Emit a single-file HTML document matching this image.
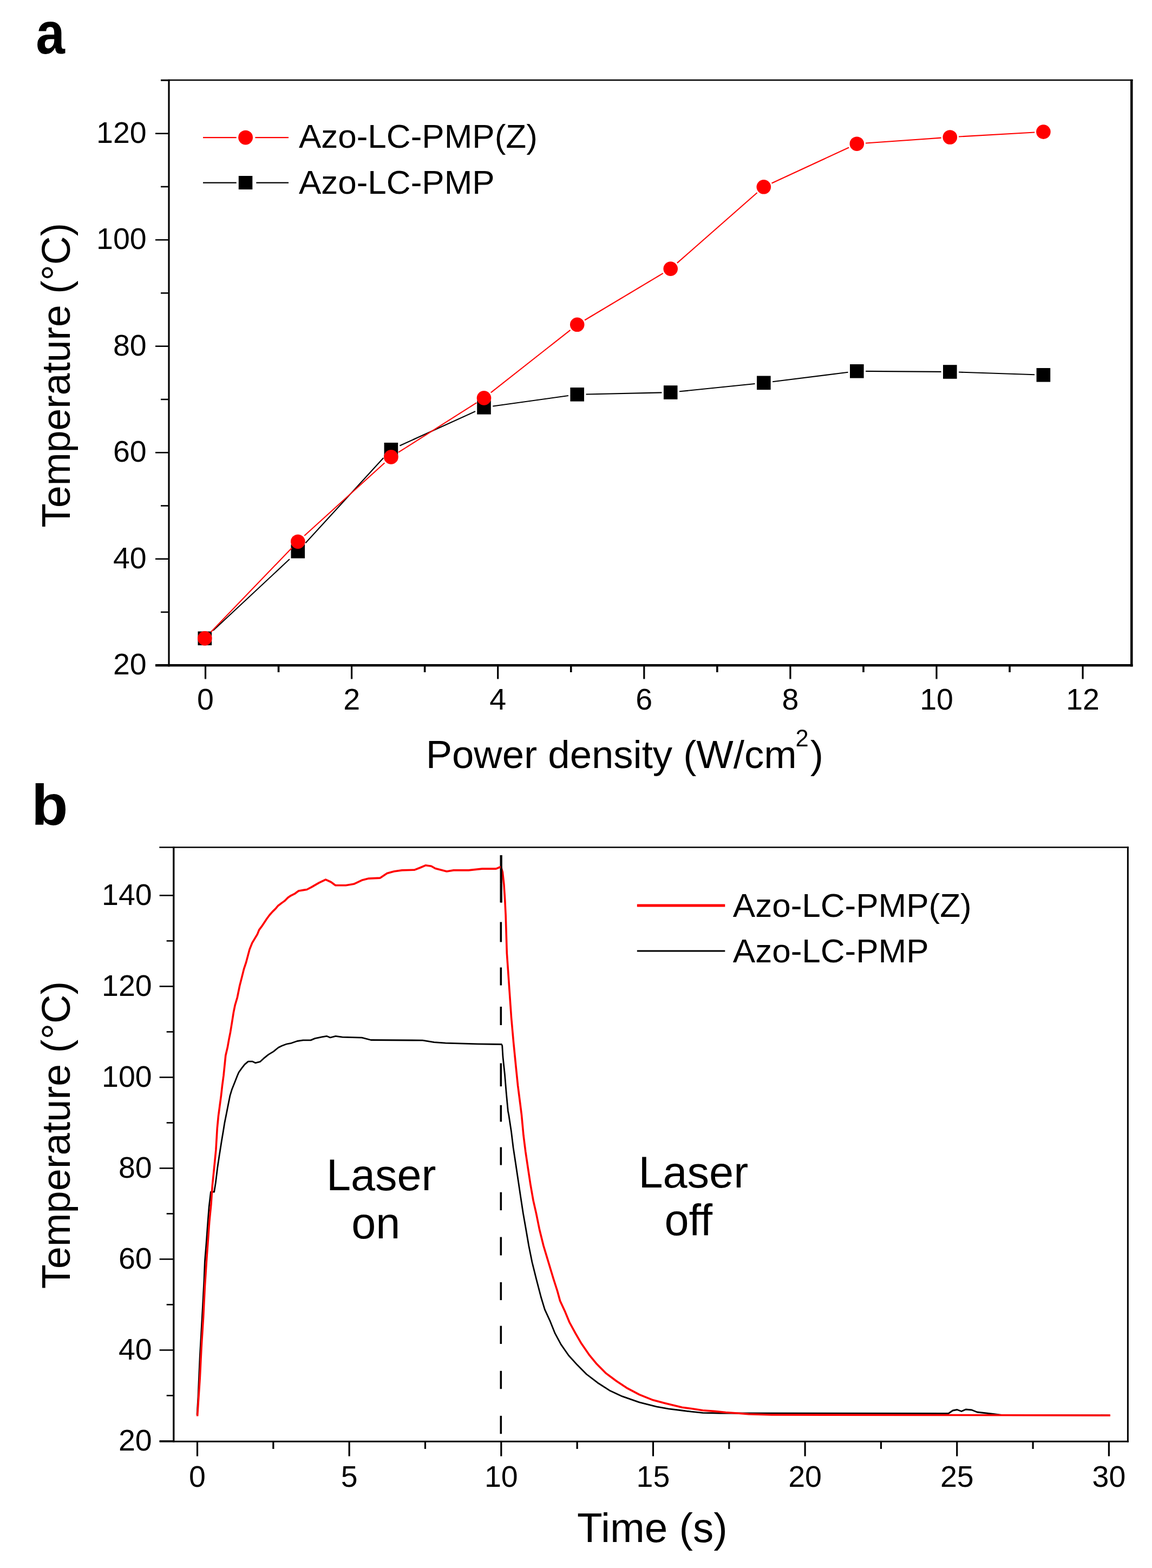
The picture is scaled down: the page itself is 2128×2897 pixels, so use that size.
<!DOCTYPE html>
<html><head><meta charset="utf-8"><title>Temperature plots</title>
<style>
html,body{margin:0;padding:0;background:#fff;}
body{width:2128px;height:2897px;overflow:hidden;}
svg{display:block;}
text{font-family:'Liberation Sans', Arial, Helvetica, sans-serif;fill:#000;}
</style></head><body>
<svg width="2128" height="2897" viewBox="0 0 2128 2897">
<rect x="0" y="0" width="2128" height="2897" fill="#fff"/>
<text transform="translate(66.2,98.5) scale(0.91,1.024)" font-size="106" font-weight="bold">a</text>
<line x1="297.00" y1="148.00" x2="2092.55" y2="148.00" stroke="#000" stroke-width="2.4" />
<line x1="312.00" y1="146.80" x2="312.00" y2="1231.40" stroke="#000" stroke-width="3.2" />
<line x1="2090.30" y1="146.80" x2="2090.30" y2="1231.40" stroke="#000" stroke-width="4.5" />
<line x1="287.00" y1="1229.20" x2="2092.55" y2="1229.20" stroke="#000" stroke-width="4.6" />
<line x1="287.00" y1="1229.20" x2="312.00" y2="1229.20" stroke="#000" stroke-width="2.6" />
<text x="270.70" y="1246.40" font-size="55.5" text-anchor="end" font-weight="normal" >20</text>
<line x1="287.00" y1="1032.70" x2="312.00" y2="1032.70" stroke="#000" stroke-width="2.6" />
<text x="270.70" y="1049.90" font-size="55.5" text-anchor="end" font-weight="normal" >40</text>
<line x1="287.00" y1="836.20" x2="312.00" y2="836.20" stroke="#000" stroke-width="2.6" />
<text x="270.70" y="853.40" font-size="55.5" text-anchor="end" font-weight="normal" >60</text>
<line x1="287.00" y1="639.70" x2="312.00" y2="639.70" stroke="#000" stroke-width="2.6" />
<text x="270.70" y="656.90" font-size="55.5" text-anchor="end" font-weight="normal" >80</text>
<line x1="287.00" y1="443.20" x2="312.00" y2="443.20" stroke="#000" stroke-width="2.6" />
<text x="270.70" y="460.40" font-size="55.5" text-anchor="end" font-weight="normal" >100</text>
<line x1="287.00" y1="246.70" x2="312.00" y2="246.70" stroke="#000" stroke-width="2.6" />
<text x="270.70" y="263.90" font-size="55.5" text-anchor="end" font-weight="normal" >120</text>
<line x1="297.00" y1="1130.95" x2="312.00" y2="1130.95" stroke="#000" stroke-width="2.6" />
<line x1="297.00" y1="934.45" x2="312.00" y2="934.45" stroke="#000" stroke-width="2.6" />
<line x1="297.00" y1="737.95" x2="312.00" y2="737.95" stroke="#000" stroke-width="2.6" />
<line x1="297.00" y1="541.45" x2="312.00" y2="541.45" stroke="#000" stroke-width="2.6" />
<line x1="297.00" y1="344.95" x2="312.00" y2="344.95" stroke="#000" stroke-width="2.6" />
<line x1="297.00" y1="148.45" x2="312.00" y2="148.45" stroke="#000" stroke-width="2.6" />
<line x1="379.50" y1="1229.20" x2="379.50" y2="1254.50" stroke="#000" stroke-width="3.2" />
<text x="379.50" y="1311.00" font-size="55.5" text-anchor="middle" font-weight="normal" >0</text>
<line x1="649.60" y1="1229.20" x2="649.60" y2="1254.50" stroke="#000" stroke-width="3.2" />
<text x="649.60" y="1311.00" font-size="55.5" text-anchor="middle" font-weight="normal" >2</text>
<line x1="919.70" y1="1229.20" x2="919.70" y2="1254.50" stroke="#000" stroke-width="3.2" />
<text x="919.70" y="1311.00" font-size="55.5" text-anchor="middle" font-weight="normal" >4</text>
<line x1="1189.80" y1="1229.20" x2="1189.80" y2="1254.50" stroke="#000" stroke-width="3.2" />
<text x="1189.80" y="1311.00" font-size="55.5" text-anchor="middle" font-weight="normal" >6</text>
<line x1="1459.90" y1="1229.20" x2="1459.90" y2="1254.50" stroke="#000" stroke-width="3.2" />
<text x="1459.90" y="1311.00" font-size="55.5" text-anchor="middle" font-weight="normal" >8</text>
<line x1="1730.00" y1="1229.20" x2="1730.00" y2="1254.50" stroke="#000" stroke-width="3.2" />
<text x="1730.00" y="1311.00" font-size="55.5" text-anchor="middle" font-weight="normal" >10</text>
<line x1="2000.10" y1="1229.20" x2="2000.10" y2="1254.50" stroke="#000" stroke-width="3.2" />
<text x="2000.10" y="1311.00" font-size="55.5" text-anchor="middle" font-weight="normal" >12</text>
<line x1="514.55" y1="1229.20" x2="514.55" y2="1242.00" stroke="#000" stroke-width="3.6" />
<line x1="784.65" y1="1229.20" x2="784.65" y2="1242.00" stroke="#000" stroke-width="3.6" />
<line x1="1054.75" y1="1229.20" x2="1054.75" y2="1242.00" stroke="#000" stroke-width="3.6" />
<line x1="1324.85" y1="1229.20" x2="1324.85" y2="1242.00" stroke="#000" stroke-width="3.6" />
<line x1="1594.95" y1="1229.20" x2="1594.95" y2="1242.00" stroke="#000" stroke-width="3.6" />
<line x1="1865.05" y1="1229.20" x2="1865.05" y2="1242.00" stroke="#000" stroke-width="3.6" />
<text x="786.7" y="1419.4" font-size="72.5">Power density (W/cm<tspan font-size="43.5" dy="-40" dx="-2">2</tspan><tspan dy="40" dx="3">)</tspan></text>
<text transform="translate(128.8,974.7) rotate(-90)" x="0" y="0" font-size="73.3">Temperature (°C)</text>
<line x1="393.66" y1="1165.05" x2="534.94" y2="1033.05" stroke="#000" stroke-width="2.1" />
<line x1="564.38" y1="1003.32" x2="708.32" y2="846.08" stroke="#000" stroke-width="2.1" />
<line x1="738.39" y1="823.44" x2="878.01" y2="760.06" stroke="#000" stroke-width="2.1" />
<line x1="910.27" y1="750.53" x2="1049.93" y2="731.07" stroke="#000" stroke-width="2.1" />
<line x1="1082.50" y1="728.44" x2="1222.40" y2="725.36" stroke="#000" stroke-width="2.1" />
<line x1="1254.98" y1="723.33" x2="1394.52" y2="708.97" stroke="#000" stroke-width="2.1" />
<line x1="1427.07" y1="705.27" x2="1566.53" y2="687.83" stroke="#000" stroke-width="2.1" />
<line x1="1599.10" y1="685.91" x2="1738.50" y2="686.89" stroke="#000" stroke-width="2.1" />
<line x1="1771.10" y1="687.55" x2="1911.10" y2="692.25" stroke="#000" stroke-width="2.1" />
<rect x="365.5" y="1166.6" width="25.6" height="25.6" fill="#000"/>
<rect x="537.5" y="1005.9" width="25.6" height="25.6" fill="#000"/>
<rect x="709.6" y="817.9" width="25.6" height="25.6" fill="#000"/>
<rect x="881.2" y="740.0" width="25.6" height="25.6" fill="#000"/>
<rect x="1053.4" y="716.0" width="25.6" height="25.6" fill="#000"/>
<rect x="1225.9" y="712.2" width="25.6" height="25.6" fill="#000"/>
<rect x="1398.0" y="694.5" width="25.6" height="25.6" fill="#000"/>
<rect x="1570.0" y="673.0" width="25.6" height="25.6" fill="#000"/>
<rect x="1742.0" y="674.2" width="25.6" height="25.6" fill="#000"/>
<rect x="1914.6" y="680.0" width="25.6" height="25.6" fill="#000"/>
<line x1="389.53" y1="1167.73" x2="539.07" y2="1012.37" stroke="#f00" stroke-width="2.1" />
<line x1="562.29" y1="989.81" x2="710.41" y2="855.29" stroke="#f00" stroke-width="2.1" />
<line x1="736.07" y1="835.71" x2="880.33" y2="744.09" stroke="#f00" stroke-width="2.1" />
<line x1="906.73" y1="725.38" x2="1053.47" y2="609.82" stroke="#f00" stroke-width="2.1" />
<line x1="1080.10" y1="591.48" x2="1224.80" y2="504.92" stroke="#f00" stroke-width="2.1" />
<line x1="1250.87" y1="485.90" x2="1398.63" y2="356.00" stroke="#f00" stroke-width="2.1" />
<line x1="1425.50" y1="338.50" x2="1568.10" y2="272.50" stroke="#f00" stroke-width="2.1" />
<line x1="1598.96" y1="264.55" x2="1738.64" y2="254.65" stroke="#f00" stroke-width="2.1" />
<line x1="1770.97" y1="252.57" x2="1911.23" y2="244.53" stroke="#f00" stroke-width="2.1" />
<circle cx="378.3" cy="1179.4" r="13.3" fill="#f00"/>
<circle cx="550.3" cy="1000.7" r="13.3" fill="#f00"/>
<circle cx="722.4" cy="844.4" r="13.3" fill="#f00"/>
<circle cx="894.0" cy="735.4" r="13.3" fill="#f00"/>
<circle cx="1066.2" cy="599.8" r="13.3" fill="#f00"/>
<circle cx="1238.7" cy="496.6" r="13.3" fill="#f00"/>
<circle cx="1410.8" cy="345.3" r="13.3" fill="#f00"/>
<circle cx="1582.8" cy="265.7" r="13.3" fill="#f00"/>
<circle cx="1754.8" cy="253.5" r="13.3" fill="#f00"/>
<circle cx="1927.4" cy="243.6" r="13.3" fill="#f00"/>
<line x1="375.00" y1="254.10" x2="436.70" y2="254.10" stroke="#f00" stroke-width="2.2" />
<line x1="471.40" y1="254.10" x2="533.00" y2="254.10" stroke="#f00" stroke-width="2.2" />
<circle cx="453.6" cy="254.1" r="13.4" fill="#f00"/>
<line x1="375.00" y1="337.60" x2="436.70" y2="337.60" stroke="#000" stroke-width="2.2" />
<line x1="473.30" y1="337.60" x2="533.00" y2="337.60" stroke="#000" stroke-width="2.2" />
<rect x="440.8" y="325" width="25.5" height="25" fill="#000"/>
<text x="551.90" y="273.00" font-size="62" text-anchor="start" font-weight="normal" >Azo-LC-PMP(Z)</text>
<text x="551.90" y="358.30" font-size="62" text-anchor="start" font-weight="normal" >Azo-LC-PMP</text>
<text transform="translate(58.1,1524.2) scale(1.043,1.0)" font-size="106" font-weight="bold">b</text>
<line x1="294.30" y1="1565.50" x2="2084.90" y2="1565.50" stroke="#000" stroke-width="2.6" />
<line x1="320.80" y1="1564.20" x2="320.80" y2="2664.80" stroke="#000" stroke-width="3.3" />
<line x1="2083.40" y1="1564.20" x2="2083.40" y2="2664.80" stroke="#000" stroke-width="3.0" />
<line x1="294.60" y1="2663.30" x2="2084.90" y2="2663.30" stroke="#000" stroke-width="3.0" />
<line x1="294.60" y1="2662.40" x2="320.80" y2="2662.40" stroke="#000" stroke-width="2.6" />
<text x="280.70" y="2679.60" font-size="55.5" text-anchor="end" font-weight="normal" >20</text>
<line x1="294.60" y1="2494.40" x2="320.80" y2="2494.40" stroke="#000" stroke-width="2.6" />
<text x="280.70" y="2511.60" font-size="55.5" text-anchor="end" font-weight="normal" >40</text>
<line x1="294.60" y1="2326.40" x2="320.80" y2="2326.40" stroke="#000" stroke-width="2.6" />
<text x="280.70" y="2343.60" font-size="55.5" text-anchor="end" font-weight="normal" >60</text>
<line x1="294.60" y1="2158.40" x2="320.80" y2="2158.40" stroke="#000" stroke-width="2.6" />
<text x="280.70" y="2175.60" font-size="55.5" text-anchor="end" font-weight="normal" >80</text>
<line x1="294.60" y1="1990.40" x2="320.80" y2="1990.40" stroke="#000" stroke-width="2.6" />
<text x="280.70" y="2007.60" font-size="55.5" text-anchor="end" font-weight="normal" >100</text>
<line x1="294.60" y1="1822.40" x2="320.80" y2="1822.40" stroke="#000" stroke-width="2.6" />
<text x="280.70" y="1839.60" font-size="55.5" text-anchor="end" font-weight="normal" >120</text>
<line x1="294.60" y1="1654.40" x2="320.80" y2="1654.40" stroke="#000" stroke-width="2.6" />
<text x="280.70" y="1671.60" font-size="55.5" text-anchor="end" font-weight="normal" >140</text>
<line x1="307.70" y1="2578.40" x2="320.80" y2="2578.40" stroke="#000" stroke-width="2.6" />
<line x1="307.70" y1="2410.40" x2="320.80" y2="2410.40" stroke="#000" stroke-width="2.6" />
<line x1="307.70" y1="2242.40" x2="320.80" y2="2242.40" stroke="#000" stroke-width="2.6" />
<line x1="307.70" y1="2074.40" x2="320.80" y2="2074.40" stroke="#000" stroke-width="2.6" />
<line x1="307.70" y1="1906.40" x2="320.80" y2="1906.40" stroke="#000" stroke-width="2.6" />
<line x1="307.70" y1="1738.40" x2="320.80" y2="1738.40" stroke="#000" stroke-width="2.6" />
<line x1="364.50" y1="2663.30" x2="364.50" y2="2690.50" stroke="#000" stroke-width="3.2" />
<text x="364.50" y="2747.00" font-size="55.5" text-anchor="middle" font-weight="normal" >0</text>
<line x1="645.15" y1="2663.30" x2="645.15" y2="2690.50" stroke="#000" stroke-width="3.2" />
<text x="645.15" y="2747.00" font-size="55.5" text-anchor="middle" font-weight="normal" >5</text>
<line x1="925.80" y1="2663.30" x2="925.80" y2="2690.50" stroke="#000" stroke-width="3.2" />
<text x="925.80" y="2747.00" font-size="55.5" text-anchor="middle" font-weight="normal" >10</text>
<line x1="1206.45" y1="2663.30" x2="1206.45" y2="2690.50" stroke="#000" stroke-width="3.2" />
<text x="1206.45" y="2747.00" font-size="55.5" text-anchor="middle" font-weight="normal" >15</text>
<line x1="1487.10" y1="2663.30" x2="1487.10" y2="2690.50" stroke="#000" stroke-width="3.2" />
<text x="1487.10" y="2747.00" font-size="55.5" text-anchor="middle" font-weight="normal" >20</text>
<line x1="1767.75" y1="2663.30" x2="1767.75" y2="2690.50" stroke="#000" stroke-width="3.2" />
<text x="1767.75" y="2747.00" font-size="55.5" text-anchor="middle" font-weight="normal" >25</text>
<line x1="2048.40" y1="2663.30" x2="2048.40" y2="2690.50" stroke="#000" stroke-width="3.2" />
<text x="2048.40" y="2747.00" font-size="55.5" text-anchor="middle" font-weight="normal" >30</text>
<line x1="504.83" y1="2663.30" x2="504.83" y2="2677.00" stroke="#000" stroke-width="3.2" />
<line x1="785.48" y1="2663.30" x2="785.48" y2="2677.00" stroke="#000" stroke-width="3.2" />
<line x1="1066.12" y1="2663.30" x2="1066.12" y2="2677.00" stroke="#000" stroke-width="3.2" />
<line x1="1346.78" y1="2663.30" x2="1346.78" y2="2677.00" stroke="#000" stroke-width="3.2" />
<line x1="1627.42" y1="2663.30" x2="1627.42" y2="2677.00" stroke="#000" stroke-width="3.2" />
<line x1="1908.08" y1="2663.30" x2="1908.08" y2="2677.00" stroke="#000" stroke-width="3.2" />
<text x="1066.1" y="2848.9" font-size="76.5">Time (s)</text>
<text transform="translate(129,2381.2) rotate(-90)" x="0" y="0" font-size="74.0">Temperature (°C)</text>
<text x="602.90" y="2198.80" font-size="81" text-anchor="start" font-weight="normal" >Laser</text>
<text x="649.30" y="2287.80" font-size="81" text-anchor="start" font-weight="normal" >on</text>
<text x="1179.50" y="2193.70" font-size="81" text-anchor="start" font-weight="normal" >Laser</text>
<text x="1227.40" y="2281.70" font-size="81" text-anchor="start" font-weight="normal" >off</text>
<line x1="925.30" y1="1580.00" x2="925.30" y2="1632.20" stroke="#000" stroke-width="3.6" />
<line x1="925.30" y1="1632.20" x2="925.30" y2="1667.50" stroke="#000" stroke-width="3.6" />
<line x1="925.30" y1="1703.50" x2="925.30" y2="1740.50" stroke="#000" stroke-width="3.6" />
<line x1="925.30" y1="1787.40" x2="925.30" y2="1820.50" stroke="#000" stroke-width="3.6" />
<line x1="925.30" y1="1859.90" x2="925.30" y2="1894.00" stroke="#000" stroke-width="3.6" />
<line x1="925.30" y1="1964.40" x2="925.30" y2="2007.20" stroke="#000" stroke-width="3.6" />
<line x1="925.30" y1="2041.80" x2="925.30" y2="2072.50" stroke="#000" stroke-width="3.6" />
<line x1="925.30" y1="2119.50" x2="925.30" y2="2152.60" stroke="#000" stroke-width="3.6" />
<line x1="925.30" y1="2202.70" x2="925.30" y2="2236.10" stroke="#000" stroke-width="3.6" />
<line x1="925.30" y1="2285.50" x2="925.30" y2="2319.40" stroke="#000" stroke-width="3.6" />
<line x1="925.30" y1="2369.00" x2="925.30" y2="2402.10" stroke="#000" stroke-width="3.6" />
<line x1="925.30" y1="2449.60" x2="925.30" y2="2483.00" stroke="#000" stroke-width="3.6" />
<line x1="925.30" y1="2532.80" x2="925.30" y2="2566.20" stroke="#000" stroke-width="3.6" />
<line x1="925.30" y1="2615.80" x2="925.30" y2="2649.20" stroke="#000" stroke-width="3.6" />
<polyline points="364.0,2614.0 366.0,2580.0 369.3,2505.0 371.6,2465.0 374.4,2415.0 377.0,2365.0 378.4,2330.0 381.1,2296.7 383.9,2257.8 386.1,2230.0 389.4,2202.2 395.6,2202.2 398.3,2185.6 401.7,2157.8 405.0,2135.6 409.4,2107.8 412.4,2090.0 414.9,2074.5 418.0,2058.9 421.1,2043.3 424.8,2024.7 428.6,2012.2 433.6,1999.8 438.5,1987.3 441.1,1981.3 446.5,1973.6 452.0,1966.6 458.5,1961.1 466.1,1961.1 471.6,1963.8 480.3,1961.7 486.9,1955.7 495.6,1948.6 505.4,1942.6 514.1,1935.5 520.6,1932.2 529.3,1929.0 538.1,1927.3 549.0,1923.5 559.9,1921.9 574.0,1921.9 581.6,1918.6 594.7,1915.9 603.4,1914.3 610.0,1917.0 620.0,1914.3 632.4,1916.2 668.4,1917.2 685.3,1921.5 780.7,1922.1 801.9,1925.7 823.0,1927.2 882.4,1928.9 926.5,1929.5 927.7,1932.0 929.0,1953.0 932.4,1985.0 935.2,2019.0 938.4,2053.0 939.8,2060.0 944.4,2090.2 948.1,2120.4 952.7,2150.7 957.2,2180.9 961.7,2211.1 966.3,2241.3 971.6,2271.5 976.8,2301.8 982.9,2332.0 990.4,2362.2 999.5,2397.0 1006.3,2419.3 1015.7,2439.8 1025.2,2463.4 1036.2,2483.9 1050.4,2504.3 1066.1,2521.6 1083.4,2539.0 1103.9,2554.7 1125.9,2568.9 1149.5,2579.9 1181.0,2590.9 1212.5,2598.8 1234.7,2602.9 1260.0,2606.0 1277.1,2608.2 1298.3,2610.3 1330.1,2611.0 1752.0,2611.5 1760.0,2606.0 1768.0,2604.5 1776.0,2607.5 1784.0,2604.0 1795.0,2605.0 1805.0,2609.0 1835.0,2612.5 1850.0,2614.5 2050.0,2614.8" fill="none" stroke="#000" stroke-width="2.8" stroke-linejoin="round" stroke-linecap="butt" />
<polyline points="364.6,2616.5 366.3,2590.2 369.2,2547.5 372.0,2490.6 375.6,2433.7 378.4,2376.9 381.8,2325.0 383.9,2296.7 386.7,2257.8 390.0,2224.4 392.2,2191.1 395.6,2157.8 398.9,2124.4 401.2,2085.0 403.4,2062.0 405.9,2043.3 408.4,2024.7 410.5,2006.0 413.0,1987.3 414.9,1968.7 416.8,1950.0 420.3,1935.2 422.8,1921.0 425.6,1906.8 428.5,1889.0 431.3,1871.2 434.2,1856.9 438.4,1842.7 442.7,1821.4 446.6,1806.1 450.6,1790.1 454.6,1778.1 457.8,1766.1 461.0,1754.1 465.8,1742.1 470.6,1734.1 475.4,1726.1 478.6,1718.1 483.4,1711.7 488.2,1704.5 493.0,1697.3 497.8,1690.8 503.4,1684.4 509.1,1678.8 513.9,1673.2 520.3,1668.4 525.9,1664.4 531.5,1658.8 537.1,1654.8 545.1,1650.8 551.5,1646.0 561.1,1644.4 566.9,1643.5 575.7,1638.9 589.1,1631.1 601.5,1625.1 611.2,1629.5 619.7,1635.8 638.7,1635.8 653.6,1633.3 668.4,1626.3 681.1,1623.1 702.3,1622.1 715.0,1613.6 727.7,1610.0 742.5,1607.9 765.8,1607.2 776.4,1603.0 786.0,1598.8 796.6,1600.3 804.0,1604.5 814.6,1607.2 825.2,1610.0 837.9,1607.9 865.4,1607.9 890.8,1605.1 916.3,1605.1 923.7,1602.0 925.5,1601.5 928.4,1611.2 930.9,1634.0 932.7,1661.8 934.1,1690.2 936.3,1761.1 941.2,1832.2 944.5,1880.0 948.6,1926.2 953.2,1972.5 956.6,2005.8 961.0,2040.0 963.5,2060.0 967.0,2097.8 970.8,2128.0 975.3,2158.2 979.9,2188.4 985.2,2218.7 990.4,2241.3 996.5,2271.5 1004.0,2301.8 1013.1,2332.0 1022.2,2362.2 1029.5,2385.0 1034.6,2403.6 1044.1,2424.1 1051.9,2443.0 1063.0,2463.4 1074.0,2482.3 1088.1,2502.8 1102.3,2520.1 1119.6,2537.4 1138.5,2551.5 1157.4,2564.1 1181.0,2576.7 1204.6,2586.2 1228.2,2592.5 1260.0,2600.3 1277.1,2602.5 1298.3,2605.7 1319.5,2607.4 1340.7,2609.5 1361.9,2611.0 1383.0,2612.7 1425.4,2614.0 2051.0,2615.0" fill="none" stroke="#f00" stroke-width="3.6" stroke-linejoin="round" stroke-linecap="butt" />
<line x1="926.30" y1="1580.00" x2="926.30" y2="1667.50" stroke="#000" stroke-width="3.0" />
<line x1="1176.80" y1="1673.00" x2="1339.30" y2="1673.00" stroke="#f00" stroke-width="5" />
<line x1="1176.80" y1="1757.00" x2="1339.30" y2="1757.00" stroke="#000" stroke-width="3" />
<text x="1353.80" y="1694.10" font-size="62" text-anchor="start" font-weight="normal" >Azo-LC-PMP(Z)</text>
<text x="1353.80" y="1777.70" font-size="62" text-anchor="start" font-weight="normal" >Azo-LC-PMP</text>
</svg>
</body></html>
